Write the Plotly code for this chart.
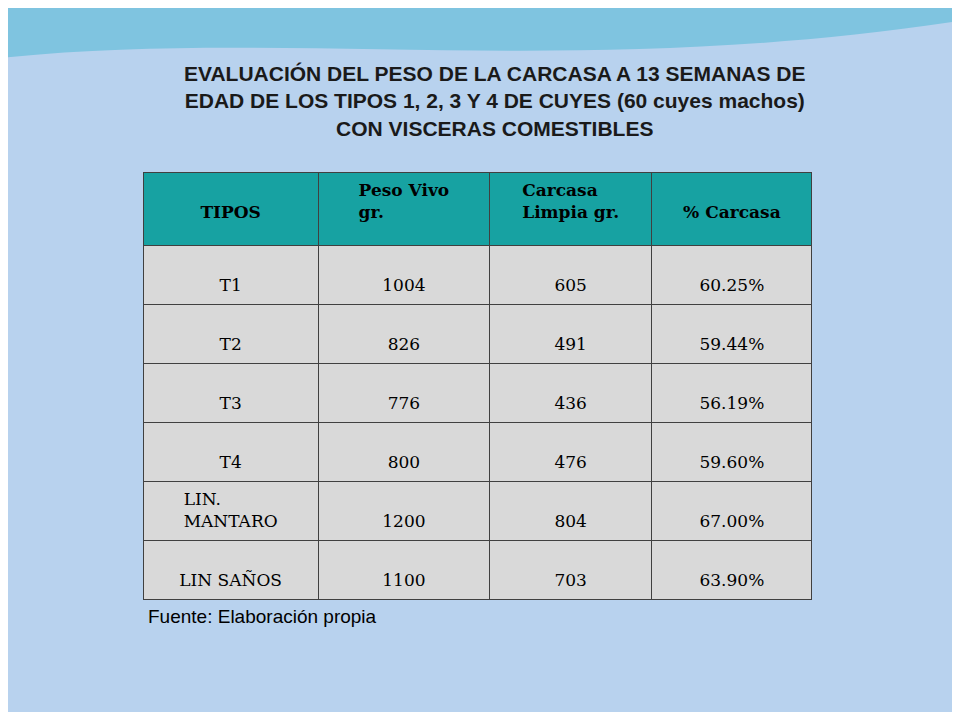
import plotly.graph_objects as go

tipos = ["T1", "T2", "T3", "T4", "LIN.<br>MANTARO", "LIN SAÑOS"]
peso_vivo = [1004, 826, 776, 800, 1200, 1100]
carcasa = [605, 491, 436, 476, 804, 703]
pct = ["60.25%", "59.44%", "56.19%", "59.60%", "67.00%", "63.90%"]
headers = ["TIPOS", "Peso Vivo<br>gr.", "Carcasa<br>Limpia gr.", "% Carcasa"]

W, H, OFF = 944, 704, 8  # page body has an 8px margin


def px_x(x):
    return (x - OFF) / W


def px_y(y):
    return 1 - (y - OFF) / H


def pad(v):
    s = str(v)
    return s if "<br>" in s else "\u00a0<br>" + s


fig = go.Figure(go.Table(
    domain=dict(x=[px_x(143), px_x(812)], y=[px_y(601), px_y(172)]),
    columnwidth=[175, 171, 162, 160],
    header=dict(
        values=["<b>" + (h if "<br>" in h else "\u00a0<br>" + h) + "</b>" for h in headers],
        fill_color="#17a2a2",
        line_color="#404040",
        font=dict(family="DejaVu Serif", size=17, color="black"),
        align="center",
        height=73,
    ),
    cells=dict(
        values=[[pad(t) for t in tipos], [pad(v) for v in peso_vivo],
                [pad(v) for v in carcasa], [pad(v) for v in pct]],
        fill_color="#d9d9d9",
        line_color="#404040",
        font=dict(family="DejaVu Serif", size=17, color="black"),
        align="center",
        height=59,
    ),
))

fig.add_annotation(
    x=px_x(495), y=px_y(60), xref="paper", yref="paper", showarrow=False,
    yanchor="top",
    text="<b>EVALUACIÓN DEL PESO DE LA CARCASA A 13 SEMANAS DE<br>"
         "EDAD DE LOS TIPOS 1, 2, 3 Y 4 DE CUYES (60 cuyes machos)<br>"
         "CON VISCERAS COMESTIBLES</b>",
    font=dict(family="Liberation Sans", size=21, color="#1a1a1a"),
)
fig.add_annotation(
    x=px_x(146), y=px_y(629), xref="paper", yref="paper", showarrow=False,
    xanchor="left", text="Fuente: Elaboración propia",
    font=dict(family="Liberation Sans", size=19, color="black"),
)

# wave at the top of the slide
fig.add_shape(type="path", xref="paper", yref="paper", layer="below",
              path="M 0 1 L 0 0.93 C 0.3 0.97, 0.6 0.9, 1 0.98 L 1 1 Z",
              fillcolor="#7fc4e0", line_width=0)

fig.update_layout(
    width=W, height=H,
    margin=dict(l=0, r=0, t=0, b=0),
    paper_bgcolor="#b8d2ee",
    plot_bgcolor="#b8d2ee",
)
fig.write_html("out.html")
